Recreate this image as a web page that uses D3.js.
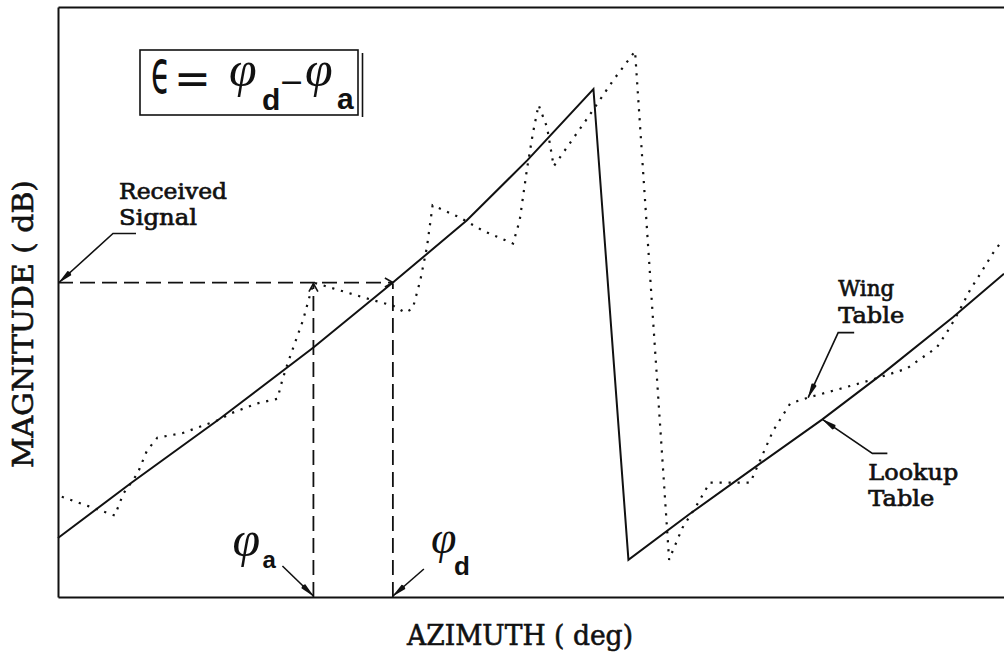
<!DOCTYPE html>
<html>
<head>
<meta charset="utf-8">
<script src="https://cdn.jsdelivr.net/npm/d3@7"></script>
<style>
  html, body { margin: 0; padding: 0; background: #fff; }
  svg { display: block; }
</style>
</head>
<body>
<svg id="chart" width="1004" height="658"></svg>
<script>
// Lookup table (solid): magnitude vs azimuth, main lobe then wing
const lookupAz  = [0, 7.8, 17.1, 27.0, 35.4, 43.2, 49.6, 56.6, 60.3, 66.8, 74.2, 80.8, 87.2, 94.6, 100];
const lookupMag = [10.0, 19.4, 30.2, 42.3, 53.3, 63.8, 74.0, 86.1, 6.3, 14.1, 22.6, 30.1, 37.9, 47.4, 54.8];

// Wing table (dotted)
const wingAz  = [0.4, 3.2, 6.0, 6.9, 8.4, 9.4, 10.5, 13.2, 16.8, 18.4,
                 21.0, 23.2, 23.7, 24.3, 25.9, 27.0, 33.3, 35.4, 36.7, 37.5,
                 38.3, 39.0, 39.6, 42.5, 44.9, 48.1, 48.8, 49.6, 50.2, 50.8,
                 51.7, 52.4, 54.1, 56.2, 58.7, 61.0, 64.6, 64.9, 66.0, 67.5,
                 68.9, 71.0, 73.2, 73.4, 74.2, 75.6, 77.4, 79.3, 82.7, 85.8,
                 89.7, 92.9, 94.3, 95.3, 96.4, 97.5, 98.8, 99.8];
const wingMag = [17.0, 15.4, 13.8, 17.5, 20.9, 24.8, 27.0, 27.8, 29.9, 31.2,
                 32.8, 33.6, 36.7, 39.7, 46.9, 53.3, 50.3, 49.4, 48.2, 48.9,
                 53.7, 59.3, 66.4, 64.3, 62.1, 59.9, 63.8, 72.8, 78.6, 83.4,
                 79.6, 73.0, 76.9, 81.7, 87.6, 92.5, 6.3, 7.5, 11.7, 15.5,
                 19.4, 19.4, 19.4, 20.2, 23.1, 28.2, 32.8, 33.8, 35.3, 36.7,
                 38.7, 42.3, 45.7, 48.6, 52.0, 54.8, 58.2, 60.4];

// Received signal level and the two azimuth estimates it maps to
const receivedLevel = 53.3;
const phiA = 27.0;   // from wing table
const phiD = 35.4;   // from lookup table
const wingPointerAz = 79.3;
const lookupPointerAz = 80.8;

const xTitle = "AZIMUTH ( deg)";
const yTitle = "MAGNITUDE ( dB)";

const frame = { left: 58, right: 1004, top: 7, bottom: 597 };
const x = d3.scaleLinear().domain([0, 100]).range([frame.left, frame.right]);
const y = d3.scaleLinear().domain([0, 100]).range([frame.bottom, frame.top]);

const svg = d3.select("#chart");
const INK = "#111";

function valueAt(az, azs, mags) {
  const i = Math.max(1, Math.min(azs.length - 1, d3.bisectRight(azs, az)));
  const t = (az - azs[i - 1]) / (azs[i] - azs[i - 1]);
  return mags[i - 1] + t * (mags[i] - mags[i - 1]);
}

// markers
const defs = svg.append("defs");
defs.append("marker").attr("id", "head")
  .attr("markerUnits", "userSpaceOnUse")
  .attr("viewBox", "-16 -4 18 8").attr("refX", 0).attr("refY", 0)
  .attr("markerWidth", 18).attr("markerHeight", 8).attr("orient", "auto")
  .append("path").attr("d", "M1,0 L-14,-2.8 Q-16,0 -14,2.8 Z").attr("fill", INK);
defs.append("marker").attr("id", "chevron")
  .attr("markerUnits", "userSpaceOnUse")
  .attr("viewBox", "-10 -6 12 12").attr("refX", 0).attr("refY", 0)
  .attr("markerWidth", 12).attr("markerHeight", 12).attr("orient", "auto")
  .append("path").attr("d", "M-8,-4.5 L0,0 L-8,4.5").attr("fill", "none")
  .attr("stroke", INK).attr("stroke-width", 1.6);

// frame: left, top and bottom axis lines without ticks
const axisG = svg.append("g");
axisG.append("g").attr("transform", `translate(0,${y(0)})`)
  .call(d3.axisBottom(x).tickValues([]).tickSizeOuter(0));
axisG.append("g").attr("transform", `translate(0,${y(100)})`)
  .call(d3.axisTop(x).tickValues([]).tickSizeOuter(0));
axisG.append("g").attr("transform", `translate(${x(0)},0)`)
  .call(d3.axisLeft(y).tickValues([]).tickSizeOuter(0));
axisG.selectAll(".domain").attr("stroke", INK).attr("stroke-width", 2);

// series
const line = d3.line().x(d => x(d[0])).y(d => y(d[1]));
svg.append("path")
  .datum(wingAz.map((a, i) => [a, wingMag[i]]))
  .attr("d", line).attr("fill", "none").attr("stroke", INK)
  .attr("stroke-width", 2.2).attr("stroke-dasharray", "2.2 6.8");
svg.append("path")
  .datum(lookupAz.map((a, i) => [a, lookupMag[i]]))
  .attr("d", line).attr("fill", "none").attr("stroke", INK)
  .attr("stroke-width", 2).attr("stroke-linejoin", "miter");

// dashed construction lines
const dash = svg.append("g").attr("stroke", INK).attr("stroke-width", 1.8)
  .attr("stroke-dasharray", "15 7").attr("fill", "none");
dash.append("line")
  .attr("x1", x(0)).attr("y1", y(receivedLevel))
  .attr("x2", x(phiD)).attr("y2", y(receivedLevel))
  .attr("marker-end", "url(#chevron)");
[phiA, phiD].forEach(p => {
  dash.append("line")
    .attr("x1", x(p)).attr("y1", y(0))
    .attr("x2", x(p)).attr("y2", y(receivedLevel) + 1)
    .attr("marker-end", p === phiA ? "url(#chevron)" : null);
});

// leaders with labels
const TYPE = "'DejaVu Serif', 'Liberation Serif', serif";
function leader(head, dx, dy, tail) {
  const kx = head[0] + dx, ky = head[1] + dy;
  const pts = tail ? [[kx + tail, ky], [kx, ky], head] : [[kx, ky], head];
  svg.append("path").attr("d", d3.line()(pts)).attr("fill", "none")
    .attr("stroke", INK).attr("stroke-width", 1.6).attr("marker-end", "url(#head)");
  return [kx, ky];
}
function label(str, px, py, len, size) {
  svg.append("text").attr("x", px).attr("y", py).text(str)
    .attr("font-family", TYPE).attr("font-size", size)
    .attr("stroke", INK).attr("stroke-width", 0.7)
    .attr("textLength", len).attr("lengthAdjust", "spacingAndGlyphs").attr("fill", INK);
}

// Received Signal
let k = leader([x(0) + 1, y(receivedLevel)], 54, -49, 23);
label("Received", k[0] + 6, k[1] - 35, 108, 23);
label("Signal", k[0] + 6, k[1] - 9, 78, 23);

// Wing Table
k = leader([x(wingPointerAz), y(valueAt(wingPointerAz, wingAz, wingMag))], 30, -65, 16);
label("Wing", k[0], k[1] - 37, 56, 23);
label("Table", k[0], k[1] - 10, 66, 23);

// Lookup Table
k = leader([x(lookupPointerAz), y(valueAt(lookupPointerAz, lookupAz, lookupMag))], 50, 34, 15);
label("Lookup", k[0] - 4, k[1] + 27, 90, 23);
label("Table", k[0] - 4, k[1] + 53, 66, 23);

// phi markers at the azimuth axis
const SERIF_I = "'Liberation Serif', 'Times New Roman', serif";
const SANS = "'Liberation Sans', Arial, sans-serif";
function phiLabel(px, py, sub, sx, sy, size, subSize) {
  svg.append("text").attr("x", px).attr("y", py).text("φ")
    .attr("font-family", SERIF_I).attr("font-style", "italic")
    .attr("font-size", size).attr("fill", INK);
  svg.append("text").attr("x", sx).attr("y", sy).text(sub)
    .attr("font-family", SANS).attr("font-weight", "bold")
    .attr("font-size", subSize).attr("fill", INK);
}
k = leader([x(phiA), y(0) - 1], -31, -30);
phiLabel(k[0] - 50, k[1] - 10, "a", k[0] - 20, k[1] + 2, 50, 24);
k = leader([x(phiD), y(0) - 1], 31, -27);
phiLabel(k[0] + 7, k[1] - 16, "d", k[0] + 30, k[1] + 6, 46, 26);

// error definition box
const box = svg.append("g").attr("transform", `translate(${frame.left + 82},${frame.top + 43})`);
box.append("rect").attr("width", 218).attr("height", 65)
  .attr("fill", "none").attr("stroke", INK).attr("stroke-width", 1.6);
box.append("line").attr("x1", 222.5).attr("y1", 3).attr("x2", 222.5).attr("y2", 67)
  .attr("stroke", INK).attr("stroke-width", 1.6);
box.append("text").text("ϵ").attr("transform", "translate(11,43) scale(0.8,1.5)")
  .attr("font-family", "'DejaVu Sans', sans-serif").attr("font-size", 40).attr("fill", INK);
box.append("text").text("=").attr("x", 34).attr("y", 44)
  .attr("font-family", "'DejaVu Sans', sans-serif").attr("font-size", 44).attr("fill", INK);
box.append("text").text("φ").attr("x", 89).attr("y", 36)
  .attr("font-family", SERIF_I).attr("font-style", "italic").attr("font-size", 50).attr("fill", INK);
box.append("text").text("d").attr("x", 122).attr("y", 60)
  .attr("font-family", SANS).attr("font-weight", "bold").attr("font-size", 30).attr("fill", INK);
box.append("text").text("−").attr("x", 139).attr("y", 42)
  .attr("font-family", "'DejaVu Sans', sans-serif").attr("font-size", 30).attr("fill", INK);
box.append("text").text("φ").attr("x", 165).attr("y", 36)
  .attr("font-family", SERIF_I).attr("font-style", "italic").attr("font-size", 50).attr("fill", INK);
box.append("text").text("a").attr("x", 197).attr("y", 59)
  .attr("font-family", SANS).attr("font-weight", "bold").attr("font-size", 30).attr("fill", INK);

// axis titles
svg.append("text").text(xTitle).attr("x", 407).attr("y", 645)
  .attr("font-family", TYPE).attr("font-size", 28)
  .attr("stroke", INK).attr("stroke-width", 0.6)
  .attr("textLength", 226).attr("lengthAdjust", "spacingAndGlyphs").attr("fill", INK);
svg.append("text").text(yTitle)
  .attr("transform", "translate(33,468) rotate(-90)")
  .attr("font-family", TYPE).attr("font-size", 28)
  .attr("stroke", INK).attr("stroke-width", 0.6)
  .attr("textLength", 288).attr("lengthAdjust", "spacingAndGlyphs").attr("fill", INK);
</script>
</body>
</html>
